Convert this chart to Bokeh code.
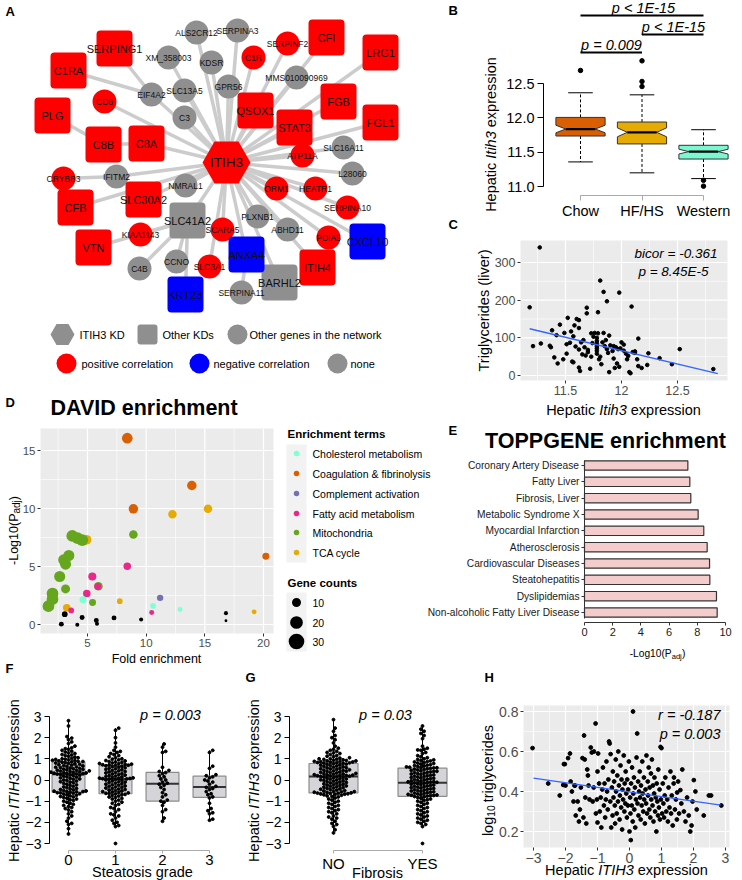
import math
import numpy as np
from bokeh.plotting import figure
from bokeh.models import Label, Range1d, FixedTicker, PrintfTickFormatter, LinearAxis
from bokeh.embed import file_html
from bokeh.resources import INLINE
from bokeh.core.properties import value

FONT = "Liberation Sans"
W, H_ = 742, 880

# ------------------------------------------------------------------ DATA
# A: network (layout positions of genes)
net_nodes = ["ITIH3", "SERPING1", "C1RA", "PLG", "C8B", "C8A", "CFB", "SLC30A2", "VTN", "QSOX1",
             "STAT3", "CFI", "FGB", "LRG1", "FGL1", "ITIH4", "SLC41A2", "BARHL2", "ANXA4", "KRT23",
             "CXCL10", "CD6", "C1R", "SERPINF2", "CRYBB3", "KIAA1143", "SCARA5", "SLC3A1", "ORM1", "HEATR1",
             "ATP11A", "SERPINA10", "PDIA5", "ALS2CR12", "SERPINA3", "XM_358003", "KDSR", "SLC13A5", "GPR56", "EIF4A2",
             "C3", "MMS010090969", "SLC16A11", "L28060", "IFITM2", "NMRAL1", "PLXNB1", "ABHD11", "C4B", "CCNO",
             "SERPINA11"]
net_x = [226, 114, 68, 52, 103, 146, 75, 143, 93, 255,
         294, 326, 338, 380, 380, 317, 187, 279, 246, 185,
         367, 104, 253, 287, 63, 140, 222, 209, 276, 315,
         302, 347, 328, 196, 237, 168, 211, 184, 228, 151,
         184, 296, 343, 352, 116, 185, 257, 287, 139, 176,
         241]
net_y = [162, 48, 70, 115, 144, 143, 207, 199, 247, 110,
         127, 37, 101, 52, 122, 267, 220, 282, 254, 294,
         241, 101, 57, 43, 178, 234, 229, 266, 188, 188,
         155, 207, 237, 32, 30, 57, 62, 90, 86, 94,
         117, 77, 147, 173, 176, 185, 216, 229, 268, 261,
         292]
net_shape = ["kd"] + ["sq"] * 20 + ["ci"] * 30
net_corr = ["pos"] * 16 + ["none", "none", "neg", "neg", "neg"] + ["pos"] * 12 + ["none"] * 18
net_extra_links = [("SERPING1", "EIF4A2"), ("C1RA", "EIF4A2"), ("PLG", "C8B"), ("C8B", "C8A"),
                   ("CRYBB3", "IFITM2"), ("VTN", "SLC41A2"), ("KIAA1143", "SLC41A2"), ("C4B", "SLC41A2"),
                   ("CCNO", "SLC41A2"), ("KRT23", "SLC41A2"), ("SERPINA11", "ANXA4")]
net_not_hub = ["SERPING1", "C1RA", "PLG", "C8B", "VTN", "KIAA1143", "C4B", "CCNO", "KRT23", "SERPINA11", "CRYBB3"]

# B: diet boxplots (Itih3 expression)
b_groups = ["Chow", "HF/HS", "Western"]
b_colors = ["#D95F02", "#E6AB02", "#7DF7CF"]
b_q1 = [11.735, 11.62, 11.40]
b_med = [11.837, 11.789, 11.508]
b_q3 = [12.006, 11.939, 11.60]
b_lo = [11.358, 11.199, 11.115]
b_hi = [12.365, 12.335, 11.827]
b_notch = [0.055, 0.065, 0.035]
b_out_grp = [1, 2, 2, 2, 3, 3]
b_out_val = [12.69, 12.83, 12.53, 12.456, 11.09, 11.005]

# C: liver triglycerides vs Itih3
c_expr = [11.27, 11.18, 11.81, 11.84, 11.98, 11.87, 12.09, 11.69, 11.69, 11.79,
          11.52, 11.60, 11.62, 11.58, 11.45, 11.38, 11.42, 11.49, 11.55, 11.57,
          11.62, 11.76, 11.73, 11.79, 11.75, 11.84, 11.89, 11.86, 12.15, 11.66,
          11.21, 11.28, 11.36, 11.37, 11.40, 11.43, 11.48, 11.51, 11.56, 11.57,
          11.62, 11.63, 11.68, 11.70, 11.72, 11.73, 11.78, 11.80, 11.81, 11.82,
          11.85, 11.87, 11.90, 11.93, 11.95, 11.97, 11.99, 11.93, 11.96, 11.98,
          11.94, 11.89, 12.02, 12.04, 12.05, 12.06, 12.07, 12.08, 12.10, 12.12,
          12.14, 12.15, 12.18, 12.23, 12.34, 12.45, 12.52, 12.82, 11.51, 11.54,
          11.59, 11.62, 11.70, 11.65, 12.12, 12.24, 11.78, 11.78, 11.78, 11.78,
          11.78, 11.78, 11.64, 11.67, 11.74, 11.83, 11.88, 11.92, 12.00, 12.02]
c_tg = [340, 181, 252, 222, 220, 197, 183, 180, 165, 168,
        153, 150, 147, 133, 135, 120, 107, 113, 117, 104,
        126, 113, 112, 112, 103, 113, 106, 94, 98, 94,
        78, 85, 79, 75, 48, 32, 43, 58, 37, 35,
        21, 12, 53, 62, 18, 50, 58, 43, 50, 30,
        78, 70, 80, 78, 75, 70, 72, 45, 32, 23,
        20, 9, 66, 58, 43, 52, 9, 6, 62, 64,
        43, 25, 20, 28, 46, 30, 70, 17, 83, 87,
        77, 69, 68, 56, 60, 59, 100, 92, 85, 78,
        72, 66, 88, 75, 86, 88, 60, 65, 88, 82]
c_fit_x = [11.18, 12.86]
c_fit_y = [124, 5]

# D: DAVID enrichment
d_terms_order = ["Cholesterol metabolism", "Coagulation & fibrinolysis", "Complement activation",
                 "Fatty acid metabolism", "Mitochondria", "TCA cycle"]
d_term_colors = ["#7FFFD4", "#D95F02", "#7570B3", "#E7298A", "#66A61E", "#E6AB02"]
d_term = (["Coagulation & fibrinolysis"] * 4 + ["TCA cycle"] * 6 + ["Mitochondria"] * 14 +
          ["Fatty acid metabolism"] * 6 + ["Cholesterol metabolism"] * 3 + ["Complement activation"] +
          ["none"] * 10)
d_fold = [8.39, 13.89, 8.91, 20.2,
          12.24, 15.27, 4.91, 7.75, 3.23, 19.2,
          3.70, 4.15, 4.55, 3.41, 2.97, 3.13, 2.63, 2.02, 2.02, 1.67, 3.13, 8.91, 5.93, 5.43,
          8.39, 5.41, 4.94, 5.87, 3.61, 10.47,
          4.62, 10.59, 12.9,
          11.19,
          3.06, 2.77, 4.54, 4.13, 5.75, 5.81, 7.26, 9.57, 16.8, 16.8]
d_logp = [16.06, 11.98, 9.97, 5.89,
          9.51, 9.97, 7.30, 2.01, 1.44, 1.09,
          7.64, 7.45, 7.28, 5.95, 5.57, 5.20, 4.14, 2.67, 2.18, 1.58, 3.07, 7.76, 3.30, 1.90,
          5.03, 4.14, 2.67, 3.28, 1.21, 1.03,
          2.13, 1.61, 1.29,
          2.30,
          0.89, 0.03, 0.60, -0.03, 0.34, 0.06, 0.57, 0.43, 0.98, 0.32]
d_count = [14, 11, 11, 6,
           9, 9, 12, 4, 7, 3,
           17, 17, 17, 15, 15, 15, 15, 17, 17, 17, 10, 9, 9, 6,
           7, 8, 7, 6, 4, 3,
           6, 4, 3,
           5,
           4, 3, 3, 2, 3, 2, 3, 2, 2, 1]
d_count_keys = [10, 20, 30]

# E: TOPPGENE enrichment
e_terms = ["Coronary Artery Disease", "Fatty Liver", "Fibrosis, Liver", "Metabolic Syndrome X",
           "Myocardial Infarction", "Atherosclerosis", "Cardiovascular Diseases", "Steatohepatitis",
           "Dyslipidemias", "Non-alcoholic Fatty Liver Disease"]
e_score = [7.33, 7.47, 7.54, 8.06, 8.46, 8.70, 8.87, 8.89, 9.36, 9.41]

# F: ITIH3 by steatosis grade
f_grades = [0, 1, 2, 3]
f_q1 = [-0.58, -0.65, -1.0, -0.82]
f_med = [0.27, 0.05, -0.18, -0.33]
f_q3 = [0.85, 0.68, 0.36, 0.18]
f_lo = [-2.55, -2.2, -1.95, -1.9]
f_hi = [2.8, 2.45, 1.7, 1.4]
f_grade0 = [2.8, 2.55, 2.05, 1.98, 1.9, 1.8, 1.72, 1.6, 1.52, 1.48, 1.45, 1.4, 1.36, 1.32, 1.28, 1.25, 1.2,
            1.18, 1.15, 1.12, 1.08, 1.05, 1.02, 1.0, 0.98, 0.97, 0.95, 0.93, 0.92, 0.9, 0.88, 0.87, 0.86, 0.84,
            0.82, 0.8, 0.78, 0.76, 0.74, 0.72, 0.7, 0.68, 0.66, 0.64, 0.62, 0.6, 0.58, 0.56, 0.55, 0.53, 0.51,
            0.5, 0.48, 0.46, 0.45, 0.43, 0.42, 0.4, 0.39, 0.37, 0.36, 0.35, 0.33, 0.32, 0.31, 0.3, 0.29, 0.28,
            0.26, 0.24, 0.22, 0.2, 0.18, 0.15, 0.13, 0.1, 0.08, 0.05, 0.03, 0.0, -0.02, -0.05, -0.08, -0.1,
            -0.13, -0.16, -0.2, -0.23, -0.26, -0.3, -0.33, -0.36, -0.4, -0.42, -0.45, -0.47, -0.5, -0.52,
            -0.53, -0.54, -0.55, -0.56, -0.58, -0.6, -0.61, -0.63, -0.65, -0.67, -0.7, -0.72, -0.75, -0.78,
            -0.8, -0.83, -0.86, -0.9, -0.93, -0.97, -1.0, -1.05, -1.1, -1.15, -1.2, -1.25, -1.3, -1.35, -1.42,
            -1.5, -1.6, -1.7, -1.8, -1.95, -2.05, -2.1, -2.3, -2.55]
f_grade1 = [2.45, 2.35, 2.0, 1.75, 1.55, 1.4, 1.35, 1.3, 1.25, 1.2, 1.15, 1.1, 1.05, 1.0, 0.98, 0.95, 0.92,
            0.9, 0.87, 0.85, 0.83, 0.8, 0.78, 0.77, 0.75, 0.74, 0.72, 0.71, 0.7, 0.69, 0.67, 0.65, 0.63, 0.6,
            0.58, 0.55, 0.53, 0.5, 0.48, 0.45, 0.43, 0.4, 0.38, 0.35, 0.33, 0.3, 0.28, 0.25, 0.23, 0.2, 0.18,
            0.16, 0.14, 0.12, 0.1, 0.09, 0.08, 0.07, 0.06, 0.05, 0.04, 0.02, 0.0, -0.02, -0.05, -0.08, -0.1,
            -0.12, -0.15, -0.18, -0.2, -0.23, -0.25, -0.28, -0.3, -0.33, -0.35, -0.38, -0.4, -0.43, -0.45,
            -0.48, -0.5, -0.52, -0.55, -0.57, -0.59, -0.61, -0.63, -0.64, -0.66, -0.68, -0.7, -0.73, -0.76,
            -0.8, -0.83, -0.87, -0.9, -0.95, -1.0, -1.05, -1.1, -1.15, -1.2, -1.3, -1.35, -1.4, -1.5, -1.6,
            -1.65, -1.7, -1.8, -1.9, -2.0, -2.05, -2.15, -2.2, -3.0]
f_grade2 = [1.7, 1.55, 1.35, 1.3, 0.6, 0.45, 0.4, 0.35, 0.3, 0.2, 0.15, 0.05, 0.0, -0.1, -0.15, -0.2, -0.25,
            -0.35, -0.45, -0.6, -0.7, -0.8, -0.95, -1.0, -1.05, -1.2, -1.4, -1.5, -1.8, -1.95]
f_grade3 = [1.4, 1.3, 0.65, 0.55, 0.25, 0.2, 0.15, 0.1, 0.0, -0.05, -0.1, -0.2, -0.3, -0.35, -0.4, -0.45,
            -0.55, -0.65, -0.7, -0.8, -0.85, -1.1, -1.35, -1.45, -1.55, -1.6, -1.85, -1.9]

# G: ITIH3 by fibrosis
g_groups = ["NO", "YES"]
g_q1 = [-0.61, -0.77]
g_med = [0.16, -0.13]
g_q3 = [0.78, 0.56]
g_lo = [-2.5, -2.2]
g_hi = [2.85, 2.55]
g_no = [2.85, 2.45, 2.3, 2.1, 2.0, 1.9, 1.75, 1.6, 1.5, 1.45, 1.4, 1.35, 1.3, 1.28, 1.25, 1.2, 1.15, 1.12,
        1.1, 1.05, 1.03, 1.0, 1.0, 0.98, 0.97, 0.95, 0.93, 0.92, 0.9, 0.9, 0.88, 0.87, 0.86, 0.85, 0.84, 0.83,
        0.82, 0.81, 0.8, 0.79, 0.77, 0.75, 0.73, 0.71, 0.7, 0.68, 0.66, 0.64, 0.62, 0.6, 0.58, 0.57, 0.55,
        0.53, 0.52, 0.5, 0.48, 0.46, 0.45, 0.43, 0.41, 0.4, 0.38, 0.36, 0.35, 0.33, 0.31, 0.3, 0.28, 0.27,
        0.25, 0.24, 0.23, 0.22, 0.21, 0.2, 0.19, 0.18, 0.17, 0.16, 0.14, 0.12, 0.1, 0.08, 0.06, 0.05, 0.03,
        0.01, 0.0, -0.02, -0.04, -0.06, -0.08, -0.1, -0.12, -0.14, -0.16, -0.18, -0.2, -0.22, -0.24, -0.26,
        -0.28, -0.3, -0.32, -0.34, -0.36, -0.38, -0.4, -0.42, -0.44, -0.46, -0.48, -0.5, -0.52, -0.54,
        -0.55, -0.56, -0.58, -0.59, -0.61, -0.62, -0.63, -0.64, -0.65, -0.66, -0.67, -0.68, -0.7, -0.72,
        -0.75, -0.78, -0.8, -0.85, -0.9, -0.95, -1.0, -1.05, -1.1, -1.15, -1.2, -1.25, -1.3, -1.35, -1.4,
        -1.45, -1.5, -1.55, -1.6, -1.7, -1.75, -1.8, -1.85, -1.95, -2.05, -2.1, -2.2, -2.35, -2.5]
g_yes = [2.55, 2.4, 2.3, 2.2, 2.1, 1.95, 1.6, 1.5, 1.45, 1.42, 1.4, 1.3, 1.25, 1.15, 1.1, 1.05, 1.0, 0.97,
         0.95, 0.92, 0.9, 0.87, 0.85, 0.82, 0.8, 0.78, 0.75, 0.72, 0.7, 0.68, 0.66, 0.64, 0.62, 0.6, 0.59,
         0.58, 0.57, 0.55, 0.53, 0.51, 0.49, 0.47, 0.45, 0.43, 0.41, 0.4, 0.38, 0.36, 0.34, 0.32, 0.3, 0.28,
         0.26, 0.24, 0.22, 0.2, 0.18, 0.16, 0.14, 0.12, 0.1, 0.08, 0.06, 0.04, 0.02, 0.0, -0.02, -0.04, -0.06,
         -0.08, -0.09, -0.1, -0.11, -0.12, -0.14, -0.16, -0.18, -0.2, -0.22, -0.24, -0.26, -0.28, -0.3, -0.32,
         -0.34, -0.36, -0.38, -0.4, -0.42, -0.44, -0.46, -0.48, -0.5, -0.52, -0.54, -0.56, -0.58, -0.6, -0.62,
         -0.64, -0.66, -0.68, -0.7, -0.71, -0.72, -0.73, -0.74, -0.76, -0.78, -0.8, -0.83, -0.86, -0.9,
         -0.93, -0.97, -1.0, -1.05, -1.1, -1.15, -1.2, -1.25, -1.3, -1.35, -1.4, -1.45, -1.5, -1.55, -1.6,
         -1.65, -1.7, -1.75, -1.8, -1.85, -1.9, -1.95, -2.0, -2.05, -2.1, -2.2, -3.0]

# H: log10 triglycerides vs ITIH3 (human)
h_expr = [-3.03, -2.54, -2.18, -2.07, -2.05, -2.02, -2.0,
          -1.92, -1.86, -1.84, -1.8, -1.75, -1.72, -1.70, -1.68, -1.62, -1.58, -1.55, -1.52,
          -1.47, -1.42, -1.44, -1.40, -1.38, -1.35, -1.32, -1.30, -1.28, -1.25, -1.21, -1.18, -1.15, -1.12,
          -1.11, -1.06, -1.05, -1.02, -1.0, -1.0,
          -0.98, -0.95, -0.93, -0.90, -0.88, -0.85, -0.83, -0.80, -0.78, -0.76, -0.74, -0.72, -0.70, -0.68,
          -0.66, -0.64, -0.62, -0.60, -0.59, -0.57, -0.55, -0.53, -0.52,
          -0.50, -0.48, -0.46, -0.45, -0.43, -0.42, -0.40, -0.38, -0.36, -0.35, -0.33, -0.31, -0.30, -0.28,
          -0.26, -0.25, -0.23, -0.22, -0.20, -0.18, -0.16, -0.15, -0.13, -0.12, -0.10, -0.08, -0.07, -0.05,
          -0.04, -0.02, 0.0,
          0.02, 0.03, 0.04, 0.05, 0.07, 0.08, 0.10, 0.11, 0.12, 0.14, 0.15, 0.17, 0.18, 0.20, 0.22, 0.24,
          0.25, 0.27, 0.28, 0.30, 0.32, 0.33, 0.35, 0.36, 0.38, 0.40, 0.41, 0.43, 0.45, 0.46, 0.48, 0.50,
          0.52, 0.53, 0.55, 0.57, 0.58, 0.60, 0.62, 0.63, 0.65, 0.67, 0.68, 0.70, 0.72, 0.73, 0.75, 0.77,
          0.78, 0.80, 0.82, 0.84, 0.85, 0.87, 0.89, 0.90, 0.92, 0.94, 0.95, 0.97, 0.98,
          1.00, 1.02, 1.04, 1.06, 1.08, 1.10, 1.12, 1.15, 1.18, 1.20, 1.22, 1.25, 1.28, 1.30, 1.32, 1.35,
          1.38, 1.39, 1.42, 1.45, 1.48,
          1.49, 1.52, 1.55, 1.59, 1.62, 1.65, 1.70, 1.75, 1.80, 1.85, 1.90, 1.94, 1.97,
          2.01, 2.06, 2.10, 2.32, 2.48, 2.55, 2.87]
h_logtg = [0.617, 0.44, 0.38, 0.433, 0.537, 0.537, 0.43,
           0.567, 0.59, 0.45, 0.40, 0.35, 0.43, 0.43, 0.28, 0.35, 0.25, 0.31, 0.42,
           0.567, 0.68, 0.27, 0.56, 0.37, 0.24, 0.51, 0.48, 0.43, 0.36, 0.62, 0.595, 0.35, 0.42,
           0.60, 0.74, 0.29, 0.36, 0.245, 0.50,
           0.59, 0.44, 0.30, 0.37, 0.22, 0.41, 0.52, 0.33, 0.44, 0.27, 0.36, 0.55, 0.40, 0.31,
           0.46, 0.65, 0.64, 0.35, 0.587, 0.22, 0.42, 0.28, 0.50,
           0.37, 0.45, 0.33, 0.24, 0.56, 0.40, 0.29, 0.48, 0.35, 0.60, 0.43, 0.26, 0.38, 0.53,
           0.32, 0.46, 0.21, 0.41, 0.36, 0.58, 0.30, 0.44, 0.34, 0.50, 0.39, 0.27, 0.46, 0.33,
           0.41, 0.55, 0.20,
           0.37, 0.29, 0.157, 0.44, 0.33, 0.52, 0.25, 0.80, 0.39, 0.47, 0.31, 0.42, 0.22, 0.36, 0.57, 0.69,
           0.34, 0.45, 0.28, 0.40, 0.50, 0.37, 0.26, 0.43, 0.33, 0.55, 0.39, 0.30, 0.47, 0.36, 0.24, 0.41,
           0.34, 0.58, 0.29, 0.45, 0.38, 0.52, 0.31, 0.42, 0.27, 0.49, 0.36, 0.56, 0.33, 0.43, 0.25, 0.39,
           0.47, 0.30, 0.37, 0.20, 0.44, 0.35, 0.28, 0.51, 0.32, 0.41, 0.26, 0.623, 0.36,
           0.617, 0.29, 0.44, 0.34, 0.27, 0.38, 0.47, 0.30, 0.36, 0.25, 0.42, 0.32, 0.50, 0.29, 0.38, 0.23,
           0.44, 0.47, 0.31, 0.36, 0.26,
           0.395, 0.45, 0.29, 0.407, 0.34, 0.51, 0.30, 0.25, 0.37, 0.28, 0.20, 0.23, 0.35,
           0.457, 0.40, 0.31, 0.28, 0.38, 0.38, 0.33]
h_fit_x = [-3.0, 2.85]
h_fit_y = [0.467, 0.332]

# ------------------------------------------------------------------ HELPERS
AW = dict(zip(" abcdefghijklmnopqrstuvwxyz",
              [278, 556, 556, 500, 556, 556, 278, 556, 556, 222, 222, 500, 222, 833, 556, 556, 556, 556,
               333, 500, 278, 556, 500, 722, 500, 500, 500]))
AW.update(zip("ABCDEFGHIJKLMNOPQRSTUVWXYZ",
              [667, 667, 722, 722, 667, 611, 778, 722, 278, 500, 667, 556, 833, 722, 778, 667, 778, 722,
               667, 611, 722, 667, 944, 667, 667, 611]))
AW.update({c: 556 for c in "0123456789"})
AW.update({"(": 333, ")": 333, "-": 333, ".": 278, "=": 584, "/": 278, ",": 278, "_": 556, "<": 584})


def tw(s, size):
    return sum(AW.get(ch, 556) for ch in s) / 1000.0 * size


# one canvas for the whole figure; the frame is pinned to the full 742x880 area,
# and each panel gets its own pair of ranges
fig = figure(frame_width=W, frame_height=H_, x_range=Range1d(0, W), y_range=Range1d(H_, 0),
             min_border=0, min_border_left=0, min_border_right=0, min_border_top=0, min_border_bottom=0,
             x_axis_location=None, y_axis_location=None,
             output_backend="svg", toolbar_location=None, tools="")
fig.outline_line_color = None
fig.background_fill_color = "white"
fig.border_fill_color = "white"
fig.xgrid.visible = False
fig.ygrid.visible = False


class Panel:
    """xmap/ymap tie two pixel positions of the page to two data values of this panel."""

    def __init__(self, name, xmap, ymap):
        self.xmap, self.ymap = xmap, ymap
        self.xn, self.yn = "x" + name, "y" + name
        fig.extra_x_ranges = dict(fig.extra_x_ranges, **{self.xn: Range1d(self.X(0), self.X(W))})
        fig.extra_y_ranges = dict(fig.extra_y_ranges, **{self.yn: Range1d(self.Y(H_), self.Y(0))})
        self.rn = dict(x_range_name=self.xn, y_range_name=self.yn)

    def X(self, rx):
        a, va, b, vb = self.xmap
        return va + (rx - a) * (vb - va) / float(b - a)

    def Y(self, ry):
        a, va, b, vb = self.ymap
        return va + (ry - a) * (vb - va) / float(b - a)

    def label(self, rx, ry, s, size, align="left", style="normal", angle=0.0, color="#000000"):
        fig.add_layout(Label(x=self.X(rx), y=self.Y(ry), text=s, text_font=FONT,
                             text_font_size="%.1fpx" % size, text_align=align,
                             text_baseline="middle", text_font_style=style,
                             angle=angle, text_color=color, **self.rn))

    def rich(self, rx, ry, parts, size, rotated=False, color="#000000"):
        total = sum(tw(t, size * sc) for t, st, sc, sh in parts)
        pos = -total / 2.0
        for t, st, sc, sh in parts:
            if rotated:
                self.label(rx + sh, ry - pos, t, size * sc, style=st, angle=math.pi / 2, color=color)
            else:
                self.label(rx + pos, ry + sh, t, size * sc, style=st, color=color)
            pos += tw(t, size * sc)

    def axis(self, which, ticks, at_px, bounds, size, color, line, tick, tick_out, standoff,
             overrides=None, fmt=None):
        ax = LinearAxis(ticker=FixedTicker(ticks=ticks), bounds=bounds, **self.rn)
        ax.fixed_location = self.Y(at_px) if which == "x" else self.X(at_px)
        if overrides:
            ax.major_label_overrides = overrides
        if fmt is not None:
            ax.formatter = fmt
        ax.major_label_text_font = FONT
        ax.major_label_text_font_size = "%.1fpx" % size
        ax.major_label_text_color = color
        ax.major_label_standoff = standoff
        ax.major_tick_out = tick_out
        ax.major_tick_in = 0
        ax.minor_tick_line_color = None
        ax.axis_line_color = line
        ax.major_tick_line_color = tick
        ax.axis_label = None
        fig.add_layout(ax, "below" if which == "x" else "left")
        return ax

    def gg_panel(self, l, t, r, b, xt, xm, yt, ym, size):
        """ggplot2-like grey panel between pixel edges l,t,r,b with white grid lines."""
        x0, x1, y0, y1 = self.X(l), self.X(r), self.Y(b), self.Y(t)
        fig.quad(left=[x0], right=[x1], bottom=[y0], top=[y1], fill_color="#EBEBEB", line_color=None, **self.rn)
        for vals, w in ((xm, 0.6), (xt, 1.2)):
            fig.segment(x0=vals, y0=[y0] * len(vals), x1=vals, y1=[y1] * len(vals), line_color="white",
                        line_width=w, **self.rn)
        for vals, w in ((ym, 0.6), (yt, 1.2)):
            fig.segment(x0=[x0] * len(vals), y0=vals, x1=[x1] * len(vals), y1=vals, line_color="white",
                        line_width=w, **self.rn)
        ax = self.axis("x", xt, b, (x0, x1), size, "#4D4D4D", None, "#333333", 3, 2)
        self.axis("y", yt, l, (y0, y1), size, "#4D4D4D", None, "#333333", 3, 2)
        return ax


def swarm(vals, ppy, ppx, d=3.2):
    v = np.asarray(vals, dtype=float)
    order = np.argsort(v, kind="stable")
    placed = []
    off = np.zeros(len(v))
    steps = [0.0]
    for k in range(1, 80):
        steps += [k * d * 0.5, -k * d * 0.5]
    for i in order:
        yy = v[i] * ppy
        near = [(px, py) for px, py in placed if abs(py - yy) < d]
        chosen = 0.0
        for s in steps:
            if all((s - px) ** 2 + (yy - py) ** 2 >= d * d for px, py in near):
                chosen = s
                break
        placed.append((chosen, yy))
        off[i] = chosen / ppx
    return off


COL = {"pos": "#FF0000", "neg": "#0000FF", "none": "#8F8F8F"}


def hexagon(cx, cy, rx, ry):
    return ([cx + rx, cx + rx / 2, cx - rx / 2, cx - rx, cx - rx / 2, cx + rx / 2],
            [cy, cy - ry, cy - ry, cy, cy + ry, cy + ry])


# ------------------------------------------------------------------ PANEL A
A = Panel("A", (0, 0, 100, 100), (0, 0, 100, 100))
ix = {n: i for i, n in enumerate(net_nodes)}
links = [("ITIH3", n) for n in net_nodes[1:] if n not in net_not_hub] + net_extra_links
fig.segment([net_x[ix[a]] for a, b in links], [net_y[ix[a]] for a, b in links],
            [net_x[ix[b]] for a, b in links], [net_y[ix[b]] for a, b in links],
            line_color="#CCCCCC", line_width=3.5, **A.rn)
sq = [i for i, s in enumerate(net_shape) if s == "sq"]
ci = [i for i, s in enumerate(net_shape) if s == "ci"]
fig.scatter([net_x[i] for i in ci], [net_y[i] for i in ci], size=24,
            fill_color=[COL[net_corr[i]] for i in ci], line_color=None, **A.rn)
fig.quad(left=[net_x[i] - 18 for i in sq], right=[net_x[i] + 18 for i in sq],
         top=[net_y[i] - 18 for i in sq], bottom=[net_y[i] + 18 for i in sq],
         border_radius=4, fill_color=[COL[net_corr[i]] for i in sq], line_color=None, **A.rn)
hx, hy = hexagon(net_x[0], net_y[0], 24, 21)
fig.patch(hx, hy, fill_color=COL[net_corr[0]], line_color=None, **A.rn)
fig.text([net_x[i] for i in ci], [net_y[i] for i in ci], text=[net_nodes[i] for i in ci],
         text_font=value(FONT), text_font_size="8.5px", text_align="center", text_baseline="middle",
         text_color="#111111", **A.rn)
fig.text([net_x[i] for i in sq], [net_y[i] for i in sq], text=[net_nodes[i] for i in sq],
         text_font=value(FONT), text_font_size="11px", text_align="center", text_baseline="middle",
         text_color="#111111", **A.rn)
fig.text([net_x[0]], [net_y[0]], text=[net_nodes[0]], text_font=value(FONT), text_font_size="13.5px",
         text_align="center", text_baseline="middle", text_color="#111111", **A.rn)
lhx, lhy = hexagon(62, 334, 12, 10.5)
fig.patch(lhx, lhy, fill_color=COL["none"], line_color=None, **A.rn)
fig.quad(left=[137], right=[157], top=[324], bottom=[344], border_radius=3, fill_color=COL["none"],
         line_color=None, **A.rn)
fig.scatter([237, 66, 199, 337], [334, 363, 363, 363], size=20,
            fill_color=[COL["none"], COL["pos"], COL["neg"], COL["none"]], line_color=None, **A.rn)
for tx, ty, s in [(79, 334, "ITIH3 KD"), (162, 334, "Other KDs"), (249, 334, "Other genes in the network"),
                  (81, 363, "positive correlation"), (213, 363, "negative correlation"), (350, 363, "none")]:
    A.label(tx, ty, s, 11)
A.label(5, 11, "A", 13, style="bold")

# ------------------------------------------------------------------ PANEL B
B = Panel("B", (580, 1, 703, 3), (186, 11.0, 83, 12.5))
hw, nf = 0.4, 0.6
bx, byy = [], []
for i in range(3):
    c = i + 1
    bx.append([c - hw, c + hw, c + hw, c + hw * nf, c + hw, c + hw, c - hw, c - hw, c - hw * nf, c - hw])
    byy.append([b_q3[i], b_q3[i], b_med[i] + b_notch[i], b_med[i], b_med[i] - b_notch[i], b_q1[i], b_q1[i],
                b_med[i] - b_notch[i], b_med[i], b_med[i] + b_notch[i]])
cx = [1, 2, 3]
fig.segment(cx, b_q3, cx, b_hi, line_color="#000000", line_width=1, line_dash="3 2", **B.rn)
fig.segment(cx, b_q1, cx, b_lo, line_color="#000000", line_width=1, line_dash="3 2", **B.rn)
fig.segment([c - 0.2 for c in cx], b_hi, [c + 0.2 for c in cx], b_hi, line_color="#000000", line_width=1, **B.rn)
fig.segment([c - 0.2 for c in cx], b_lo, [c + 0.2 for c in cx], b_lo, line_color="#000000", line_width=1, **B.rn)
fig.patches(bx, byy, fill_color=b_colors, line_color="#333333", line_width=1, **B.rn)
fig.segment([c - hw * nf for c in cx], b_med, [c + hw * nf for c in cx], b_med, line_color="#000000",
            line_width=2.2, **B.rn)
fig.scatter(b_out_grp, b_out_val, size=4.5, color="#000000", **B.rn)
B.axis("y", [11.0, 11.5, 12.0, 12.5], 543, (11.0, 12.5), 14.5, "#000000", "#000000", "#000000", 6, 3,
       fmt=PrintfTickFormatter(format="%.1f"))
B.axis("x", [1, 2, 3], 195, (1, 3), 14.5, "#000000", "#AAAAAA", "#AAAAAA", 5, 2,
       overrides={1: b_groups[0], 2: b_groups[1], 3: b_groups[2]})
fig.segment([1, 2, 1], [B.Y(15), B.Y(34), B.Y(52)], [3, 3, 2], [B.Y(15), B.Y(34), B.Y(52)],
            line_color="#000000", line_width=2, **B.rn)
B.label(643, 7, "p < 1E-15", 14.5, align="center", style="italic")
B.label(673, 26, "p < 1E-15", 14.5, align="center", style="italic")
B.label(611, 44, "p = 0.009", 14.5, align="center", style="italic")
B.label(448, 10, "B", 13, style="bold")
B.rich(490, 134, [("Hepatic ", "normal", 1, 0), ("Itih3 ", "italic", 1, 0), ("expression", "normal", 1, 0)],
       14.5, rotated=True)

# ------------------------------------------------------------------ PANEL C
C = Panel("C", (565, 11.5, 677, 12.5), (375, 0, 262, 300))
C.gg_panel(520, 240, 727, 380, [11.5, 12.0, 12.5], [11.25, 11.75, 12.25, 12.75],
           [0, 100, 200, 300], [50, 150, 250], 12.5)
fig.scatter(c_expr, c_tg, size=3.6, color="#000000", **C.rn)
fig.line(c_fit_x, c_fit_y, line_color="#3366FF", line_width=1.4, **C.rn)
C.label(448, 224, "C", 13, style="bold")
C.label(717, 253, "bicor = -0.361", 13.5, align="right", style="italic")
C.label(673, 271, "p = 8.45E-5", 13.5, align="center", style="italic")
C.label(483, 310, "Triglycerides (liver)", 14.5, align="center", angle=math.pi / 2)
C.rich(623, 409, [("Hepatic ", "normal", 1, 0), ("Itih3 ", "italic", 1, 0), ("expression", "normal", 1, 0)], 14.5)

# ------------------------------------------------------------------ PANEL D (+ its legend)
D = Panel("D", (87, 5, 263, 20), (624, 0, 450, 15))
D.gg_panel(40, 428, 273, 633, [5, 10, 15, 20], [2.5, 7.5, 12.5, 17.5], [0, 5, 10, 15], [2.5, 7.5, 12.5], 11.5)
cmap = dict(zip(d_terms_order, d_term_colors))
cmap["none"] = "#000000"
fig.scatter(d_fold, d_logp, size=[2.85 * math.sqrt(c) for c in d_count],
            fill_color=[cmap[t] for t in d_term], line_color=None, **D.rn)
D.label(5, 402, "D", 13, style="bold")
D.label(50, 407, "DAVID enrichment", 21.5, style="bold")
D.rich(13, 530, [("-Log10(P", "normal", 1, 0), ("adj", "normal", 0.8, 3), (")", "normal", 1, 0)], 12.5, rotated=True)
D.label(156, 658, "Fold enrichment", 12.5, align="center")
fig.quad(left=[D.X(286)] * 2, right=[D.X(306)] * 2, top=[D.Y(444), D.Y(592)], bottom=[D.Y(562), D.Y(651)],
         fill_color="#F2F2F2", line_color=None, **D.rn)
key_y = [453, 473, 493, 513, 532, 552]
fig.scatter([D.X(296)] * 6, [D.Y(v) for v in key_y], size=5.5, fill_color=d_term_colors, line_color=None, **D.rn)
for yy, t in zip(key_y, d_terms_order):
    D.label(312, yy, t, 10.5)
D.label(287, 433, "Enrichment terms", 11.5, style="bold")
D.label(287, 582, "Gene counts", 11.5, style="bold")
cnt_y = [602, 622, 641]
fig.scatter([D.X(296)] * 3, [D.Y(v) for v in cnt_y], size=[2.85 * math.sqrt(c) for c in d_count_keys],
            fill_color="#000000", line_color=None, **D.rn)
for yy, c in zip(cnt_y, d_count_keys):
    D.label(312, yy, str(c), 10.5)

# ------------------------------------------------------------------ PANEL E
E = Panel("E", (584, 0, 725, 10), (612, 1, 465, 10))
e_pos = list(range(len(e_terms), 0, -1))
fig.hbar(y=e_pos, right=e_score, left=0, height=0.57, fill_color="#F4CCCC", line_color="#333333",
         line_width=1.2, **E.rn)
E.axis("y", e_pos, 584, (E.Y(618), E.Y(460)), 10.2, "#1A1A1A", "#333333", "#333333", 3, 2,
       overrides={p_: t for p_, t in zip(e_pos, e_terms)})
E.axis("x", [0, 2, 4, 6, 8, 10], 622, (0, 10), 11, "#1A1A1A", "#333333", "#333333", 3, 2)
E.label(448, 430, "E", 13, style="bold")
E.label(605, 440, "TOPPGENE enrichment", 21.5, align="center", style="bold")
E.rich(657, 653, [("-Log10(P", "normal", 1, 0), ("adj", "normal", 0.75, 3), (")", "normal", 1, 0)], 10.2)

# ------------------------------------------------------------------ PANEL F
F = Panel("F", (68, 0, 209, 3), (843, -3, 716, 3))
fh = 0.35
fig.segment(f_grades, f_lo, f_grades, f_hi, line_color="#000000", line_width=1, **F.rn)
fig.quad(left=[g - fh for g in f_grades], right=[g + fh for g in f_grades], bottom=f_q1, top=f_q3,
         fill_color="#D5D5D9", line_color="#8C8C8C", line_width=1.2, **F.rn)
fig.segment([g - fh for g in f_grades], f_med, [g + fh for g in f_grades], f_med, line_color="#333333",
            line_width=2, **F.rn)
fx, fy = [], []
for g, vals in zip(f_grades, [f_grade0, f_grade1, f_grade2, f_grade3]):
    off = swarm(vals, 21.17, 47.0)
    fx += list(g + off)
    fy += list(vals)
fig.scatter(fx, fy, size=2.9, color="#000000", **F.rn)
F.axis("y", [-3, -2, -1, 0, 1, 2, 3], 49, (-3, 3), 14, "#000000", "#000000", "#000000", 5, 3)
F.axis("x", f_grades, 850, (0, 3), 15, "#000000", "#AAAAAA", "#AAAAAA", 3, 1)
F.label(5, 668, "F", 13, style="bold")
F.label(170, 714, "p = 0.003", 14.5, align="center", style="italic")
F.rich(13, 780, [("Hepatic ", "normal", 1, 0), ("ITIH3 ", "italic", 1, 0), ("expression", "normal", 1, 0)],
       14.5, rotated=True)
F.label(142, 871, "Steatosis grade", 14.5, align="center")

# ------------------------------------------------------------------ PANEL G
G = Panel("G", (333, 0, 422, 1), (843, -3, 716, 3))
gh = 0.275
gx0 = [0, 1]
fig.segment(gx0, g_lo, gx0, g_hi, line_color="#000000", line_width=1, **G.rn)
fig.quad(left=[g - gh for g in gx0], right=[g + gh for g in gx0], bottom=g_q1, top=g_q3,
         fill_color="#D5D5D9", line_color="#8C8C8C", line_width=1.2, **G.rn)
fig.segment([g - gh for g in gx0], g_med, [g + gh for g in gx0], g_med, line_color="#333333",
            line_width=2, **G.rn)
gx, gy = [], []
for g, vals in zip(gx0, [g_no, g_yes]):
    off = swarm(vals, 21.17, 89.0)
    gx += list(g + off)
    gy += list(vals)
fig.scatter(gx, gy, size=2.9, color="#000000", **G.rn)
G.axis("y", [-3, -2, -1, 0, 1, 2, 3], 289, (-3, 3), 14, "#000000", "#000000", "#000000", 5, 3)
G.axis("x", gx0, 850, (0, 1), 15, "#000000", "#AAAAAA", "#AAAAAA", 3, 1,
       overrides={0: g_groups[0], 1: g_groups[1]})
G.label(245, 677, "G", 13, style="bold")
G.label(385, 714, "p = 0.03", 14.5, align="center", style="italic")
G.rich(253, 780, [("Hepatic ", "normal", 1, 0), ("ITIH3 ", "italic", 1, 0), ("expression", "normal", 1, 0)],
       14.5, rotated=True)
G.label(377, 872, "Fibrosis", 14.5, align="center")

# ------------------------------------------------------------------ PANEL H
Hp = Panel("H", (533, -3, 725, 3), (831, 0.2, 711, 0.8))
hax = Hp.gg_panel(523, 705, 729, 847, [-3, -2, -1, 0, 1, 2, 3], [-2.5, -1.5, -0.5, 0.5, 1.5, 2.5],
                  [0.2, 0.4, 0.6, 0.8], [0.3, 0.5, 0.7], 14)
hax.major_label_overrides = {-3: "\u22123", -2: "\u22122", -1: "\u22121", 0: "0", 1: "1", 2: "2", 3: "3"}
fig.scatter(h_expr, h_logtg, size=3.8, color="#000000", **Hp.rn)
fig.line(h_fit_x, h_fit_y, line_color="#3366FF", line_width=1.4, **Hp.rn)
Hp.label(484, 677, "H", 13, style="bold")
Hp.label(720, 714, "r = -0.187", 14.5, align="right", style="italic")
Hp.label(720, 733, "p = 0.003", 14.5, align="right", style="italic")
Hp.rich(487, 780, [("log", "normal", 1, 0), ("10 ", "normal", 0.72, 4), ("triglycerides", "normal", 1, 0)],
        14.5, rotated=True)
Hp.rich(626, 869, [("Hepatic ", "normal", 1, 0), ("ITIH3 ", "italic", 1, 0), ("expression", "normal", 1, 0)], 14.5)

open("out.html", "w").write(file_html(fig, INLINE))
